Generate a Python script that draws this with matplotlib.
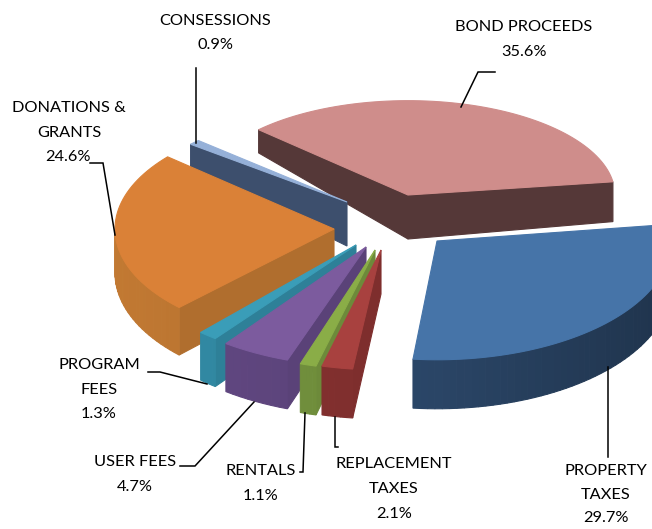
import numpy as np
import matplotlib
matplotlib.use("Agg")
import matplotlib.pyplot as plt
from matplotlib.colors import to_rgb
from matplotlib.patches import Polygon

# data, in drawing order clockwise from BOND PROCEEDS
categories = ["BOND PROCEEDS", "PROPERTY TAXES", "REPLACEMENT TAXES", "RENTALS",
              "USER FEES", "PROGRAM FEES", "DONATIONS & GRANTS", "CONSESSIONS"]
shares = [35.6, 29.7, 2.1, 1.1, 4.7, 1.3, 24.6, 0.9]

# styles
top_colors = ["#CF8D8B", "#4674A8", "#A8413F", "#8AAD47", "#7C5B9E", "#3A9DB8", "#DA8137", "#95B0D8"]
side_colors = ["#553838", "#2A4566", "#7E2E2D", "#6D8A3A", "#5A4278", "#2E8098", "#B06E2E", "#3D4F6D"]
apex_x = [408, 437, 381, 375, 366, 356, 334, 347]
apex_y = [195, 241, 250, 250, 247, 245, 229, 202]
scale_x = [0.945, 1.07, 1.08, 1.08, 1.08, 1.06, 1.0, 0.94]
scale_y = [0.85, 1.07, 1.08, 1.08, 1.08, 1.06, 1.0, 0.80]
# perspective correction of the projected slice edges, in degrees
nudge_start = [0, 0, -2, -2, -1, 0, 3, 0]
nudge_end = [0, -3, -2, -2, -1, 0, 0, 0]
draw_order = [0, 7, 6, 5, 4, 3, 2, 1]

RX, RY = 219.0, 111.0
START = -136.2
D0 = 44.0


def depth(r, theta):
    s = np.sin(np.radians(theta))
    return D0 + r * (5 * s if s > 0 else 30 * s)


def arc_shade(theta):
    c = np.cos(np.radians(theta))
    return 1 - 0.25 * c if c > 0 else 1 - 0.10 * c


def shade(color, f):
    return tuple(min(1, v * f) for v in to_rgb(color))


fig = plt.figure(figsize=(6.52, 5.29), dpi=100)
ax = fig.add_axes([0, 0, 1, 1])
ax.set_xlim(0, 652)
ax.set_ylim(529, 0)
ax.axis("off")

ends = START + np.cumsum(shares) * 3.6
starts = ends - np.array(shares) * 3.6

for i in draw_order:
    cx, cy = apex_x[i], apex_y[i]
    rx, ry = RX * scale_x[i], RY * scale_y[i]
    th = np.linspace(starts[i] + nudge_start[i], ends[i] + nudge_end[i], max(6, int(shares[i] * 2)))
    ox = cx + rx * np.cos(np.radians(th))
    oy = cy + ry * np.sin(np.radians(th))
    # list of faces: (x0, y0, x1, y1, depth0, depth1, colour)
    faces = [(cx, cy, ox[0], oy[0], D0, depth(1, th[0]), side_colors[i]),
             (ox[-1], oy[-1], cx, cy, depth(1, th[-1]), D0, side_colors[i])]
    for k in range(len(th) - 1):
        mid = 0.5 * (th[k] + th[k + 1])
        faces.append((ox[k], oy[k], ox[k + 1], oy[k + 1], depth(1, th[k]), depth(1, th[k + 1]),
                      shade(side_colors[i], arc_shade(mid))))
    # only faces whose outward normal points at the viewer are drawn
    for x0, y0, x1, y1, d0, d1, col in faces:
        if x1 - x0 < 0:
            ax.add_patch(Polygon([(x0, y0), (x1, y1), (x1, y1 + d1), (x0, y0 + d0)],
                                 closed=True, facecolor=col, edgecolor=col, lw=0.8))
    ax.add_patch(Polygon(np.column_stack([np.r_[cx, ox], np.r_[cy, oy]]), closed=True,
                         facecolor=top_colors[i], edgecolor=top_colors[i], lw=0.8))

# leader lines
leaders = [
    ([196, 196], [68, 143]),
    ([495, 478, 461], [72, 72, 107]),
    ([90, 103, 115], [163, 163, 235]),
    ([148, 160, 207], [372, 372, 384]),
    ([180, 195, 254], [466, 466, 402]),
    ([300, 303, 305], [472, 472, 413]),
    ([338, 335, 335], [447, 447, 417]),
    ([608, 608], [457, 367]),
]
for xs, ys in leaders:
    ax.plot(xs, ys, color="black", lw=1.1, solid_joinstyle="miter")

# labels
label_lines = [
    (215, 21, "CONSESSIONS"), (215, 45, "0.9%"),
    (524, 27, "BOND PROCEEDS"), (524, 52, "35.6%"),
    (69, 108, "DONATIONS &"), (69, 133, "GRANTS"), (68, 157, "24.6%"),
    (99, 365, "PROGRAM"), (99, 390, "FEES"), (99, 414, "1.3%"),
    (135, 462, "USER FEES"), (135, 487, "4.7%"),
    (261, 471, "RENTALS"), (261, 496, "1.1%"),
    (394, 464, "REPLACEMENT"), (394, 489, "TAXES"), (394, 514, "2.1%"),
    (606, 471, "PROPERTY"), (606, 495, "TAXES"), (606, 518, "29.7%"),
]
for x, y, s in label_lines:
    ax.text(x, y, s, ha="center", va="center", fontsize=11.8, family="Lato", color="black")

fig.savefig("out.png", dpi=100)
